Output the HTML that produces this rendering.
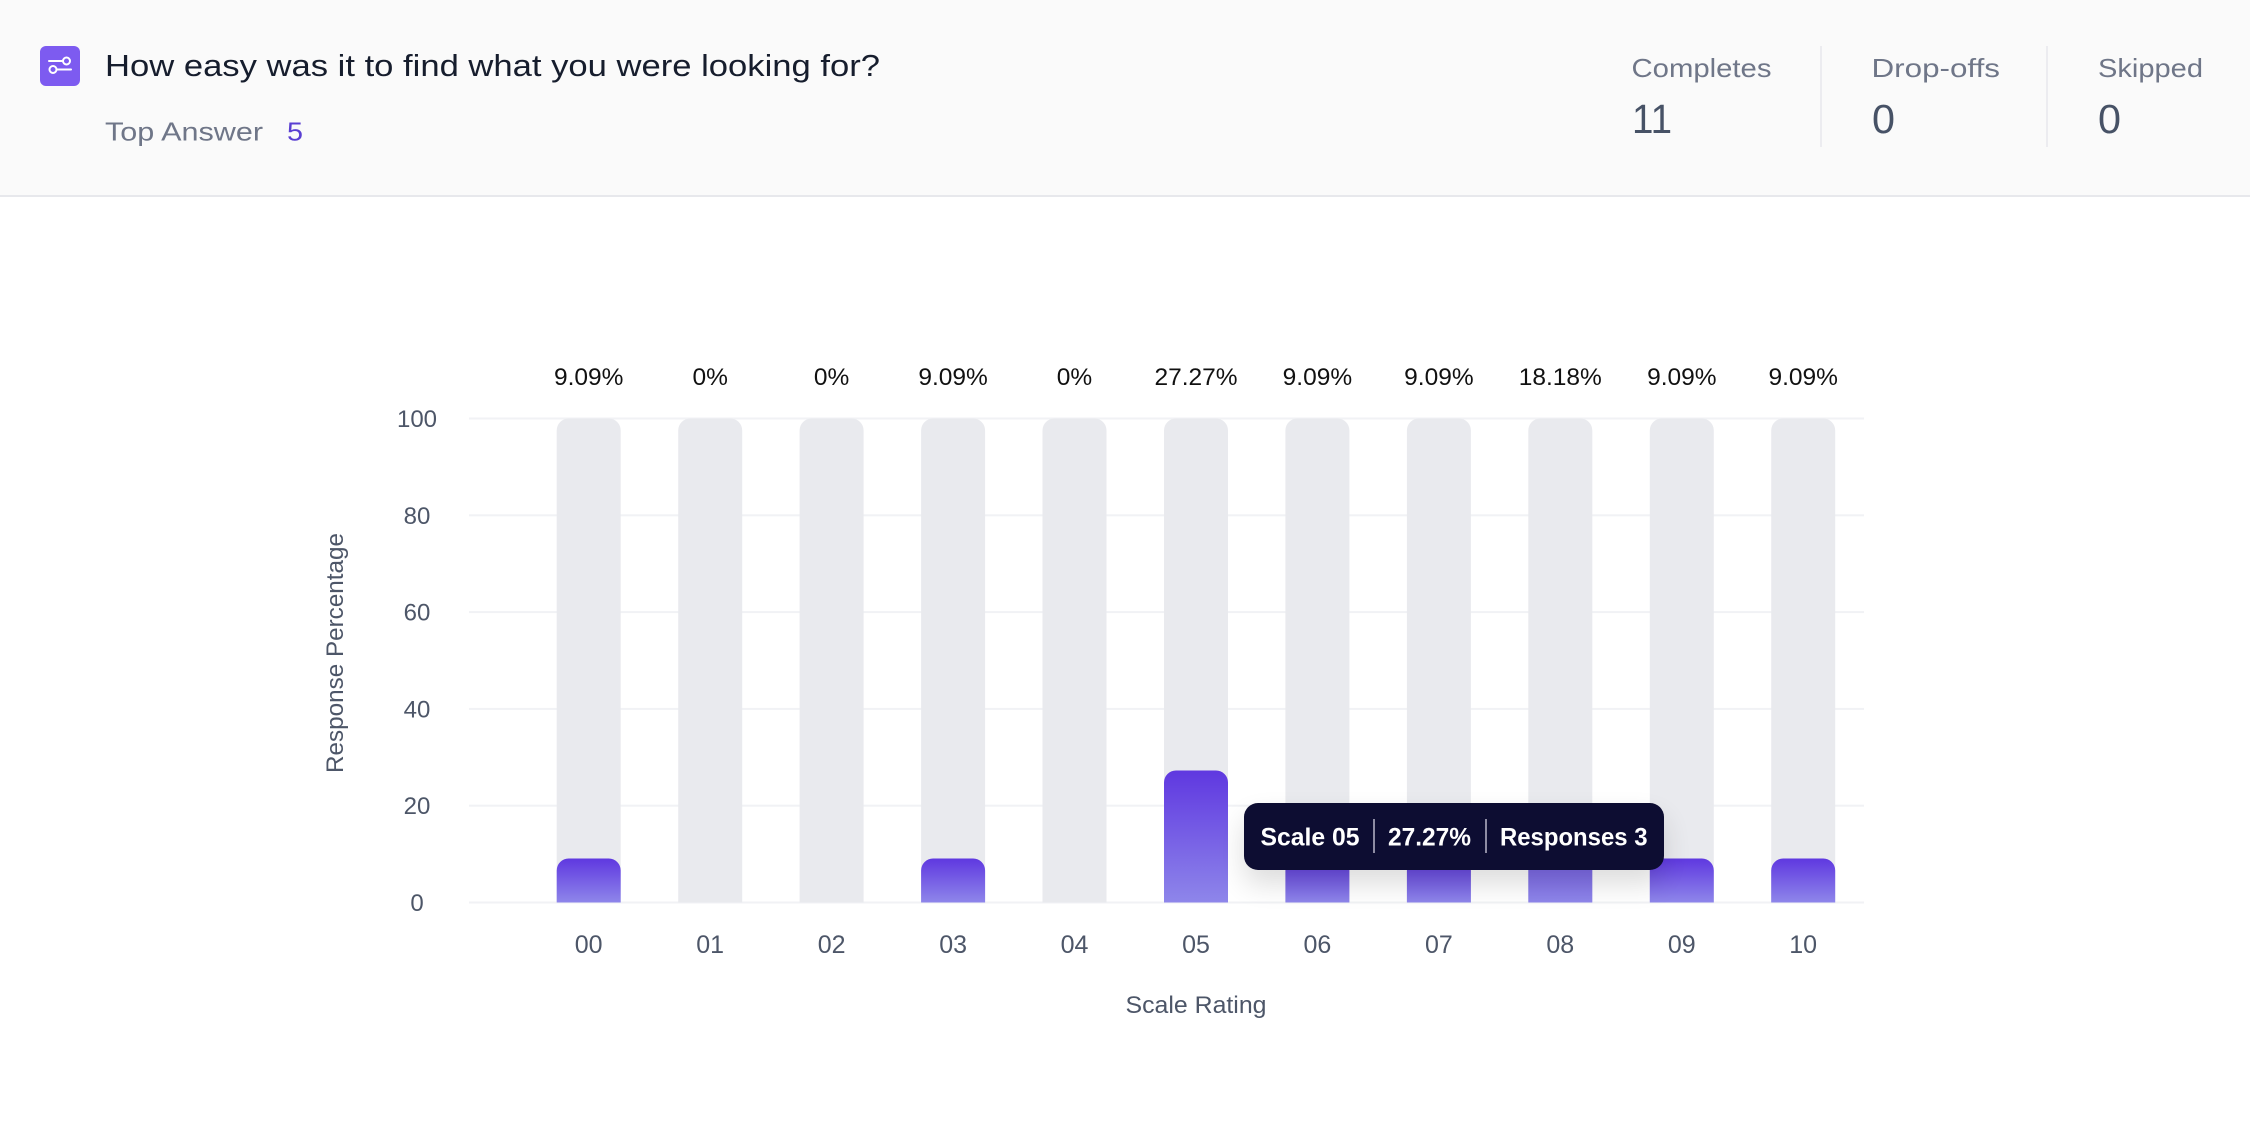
<!DOCTYPE html>
<html>
<head>
<meta charset="utf-8">
<style>
  html,body{margin:0;padding:0;background:#ffffff;}
  body{width:2250px;height:1122px;overflow:hidden;}
  svg{display:block;}
  text{font-family:"Liberation Sans", Arial, sans-serif;}
</style>
</head>
<body>
<svg width="2250" height="1122" viewBox="0 0 2250 1122" xmlns="http://www.w3.org/2000/svg">
  <defs>
    <linearGradient id="pg" x1="0" y1="0" x2="0" y2="1">
      <stop offset="0" stop-color="#5f38e0"/>
      <stop offset="1" stop-color="#8e86ea"/>
    </linearGradient>
    <filter id="sh" x="-20%" y="-50%" width="140%" height="220%">
      <feGaussianBlur in="SourceAlpha" stdDeviation="14"/>
      <feOffset dy="14" result="b"/>
      <feComponentTransfer><feFuncA type="linear" slope="0.14"/></feComponentTransfer>
      <feMerge><feMergeNode/><feMergeNode in="SourceGraphic"/></feMerge>
    </filter>
  </defs>

  <!-- Header -->
  <rect x="0" y="0" width="2250" height="196" fill="#fafafa"/>
  <rect x="0" y="195" width="2250" height="2" fill="#e7e8ec"/>

  <!-- icon -->
  <rect x="40" y="46" width="40" height="40" rx="6" fill="#7d5bf0"/>
  <g stroke="#ffffff" stroke-width="2" fill="none" stroke-linecap="round">
    <line x1="49" y1="61" x2="63" y2="61"/>
    <circle cx="66.5" cy="61" r="3.5"/>
    <circle cx="53" cy="69.5" r="3.5"/>
    <line x1="56.5" y1="69.5" x2="71" y2="69.5"/>
  </g>

  <text x="105" y="76" font-size="31" fill="#161d2d" textLength="775" lengthAdjust="spacingAndGlyphs">How easy was it to find what you were looking for?</text>
  <text x="105" y="140.5" font-size="26" fill="#6f7688" textLength="158" lengthAdjust="spacingAndGlyphs">Top Answer</text>
  <text x="287" y="140.5" font-size="26" fill="#5a3fd2" textLength="16" lengthAdjust="spacingAndGlyphs">5</text>

  <!-- stats -->
  <text x="1631.5" y="77" font-size="26" fill="#6f7688" textLength="140" lengthAdjust="spacingAndGlyphs">Completes</text>
  <text x="1632" y="133" font-size="41" fill="#475266" textLength="40" lengthAdjust="spacingAndGlyphs">11</text>
  <rect x="1820" y="46" width="2" height="101" fill="#ececf0"/>
  <text x="1871.5" y="77" font-size="26" fill="#6f7688" textLength="128.5" lengthAdjust="spacingAndGlyphs">Drop-offs</text>
  <text x="1872" y="133" font-size="41" fill="#475266" textLength="23" lengthAdjust="spacingAndGlyphs">0</text>
  <rect x="2046" y="46" width="2" height="101" fill="#ececf0"/>
  <text x="2098" y="77" font-size="26" fill="#6f7688" textLength="105" lengthAdjust="spacingAndGlyphs">Skipped</text>
  <text x="2098" y="133" font-size="41" fill="#475266" textLength="23" lengthAdjust="spacingAndGlyphs">0</text>

  <!-- gridlines -->
  <g fill="#f1f2f5">
    <rect x="469" y="417.5" width="1395" height="2"/>
    <rect x="469" y="514.3" width="1395" height="2"/>
    <rect x="469" y="611.1" width="1395" height="2"/>
    <rect x="469" y="707.9" width="1395" height="2"/>
    <rect x="469" y="804.7" width="1395" height="2"/>
    <rect x="469" y="901.5" width="1395" height="2"/>
  </g>

  <!-- y tick labels -->
  <g font-size="24" fill="#4d5668" text-anchor="middle">
    <text x="417" y="427">100</text>
    <text x="417" y="523.8">80</text>
    <text x="417" y="620.6">60</text>
    <text x="417" y="717.4">40</text>
    <text x="417" y="814.2">20</text>
    <text x="417" y="911">0</text>
  </g>

  <!-- y axis title -->
  <text transform="translate(343,653) rotate(-90)" font-size="24" fill="#4d5668" text-anchor="middle" textLength="240" lengthAdjust="spacingAndGlyphs">Response Percentage</text>

  <!-- gray background bars -->
  <g fill="#e9eaee">
    <path d="M556.7 902.5 V430.5 A12 12 0 0 1 568.7 418.5 H608.7 A12 12 0 0 1 620.7 430.5 V902.5 Z"/>
    <path d="M678.2 902.5 V430.5 A12 12 0 0 1 690.2 418.5 H730.2 A12 12 0 0 1 742.2 430.5 V902.5 Z"/>
    <path d="M799.6 902.5 V430.5 A12 12 0 0 1 811.6 418.5 H851.6 A12 12 0 0 1 863.6 430.5 V902.5 Z"/>
    <path d="M921.1 902.5 V430.5 A12 12 0 0 1 933.1 418.5 H973.1 A12 12 0 0 1 985.1 430.5 V902.5 Z"/>
    <path d="M1042.5 902.5 V430.5 A12 12 0 0 1 1054.5 418.5 H1094.5 A12 12 0 0 1 1106.5 430.5 V902.5 Z"/>
    <path d="M1164 902.5 V430.5 A12 12 0 0 1 1176 418.5 H1216 A12 12 0 0 1 1228 430.5 V902.5 Z"/>
    <path d="M1285.4 902.5 V430.5 A12 12 0 0 1 1297.4 418.5 H1337.4 A12 12 0 0 1 1349.4 430.5 V902.5 Z"/>
    <path d="M1406.9 902.5 V430.5 A12 12 0 0 1 1418.9 418.5 H1458.9 A12 12 0 0 1 1470.9 430.5 V902.5 Z"/>
    <path d="M1528.3 902.5 V430.5 A12 12 0 0 1 1540.3 418.5 H1580.3 A12 12 0 0 1 1592.3 430.5 V902.5 Z"/>
    <path d="M1649.8 902.5 V430.5 A12 12 0 0 1 1661.8 418.5 H1701.8 A12 12 0 0 1 1713.8 430.5 V902.5 Z"/>
    <path d="M1771.2 902.5 V430.5 A12 12 0 0 1 1783.2 418.5 H1823.2 A12 12 0 0 1 1835.2 430.5 V902.5 Z"/>
  </g>

  <!-- purple value bars -->
  <g fill="url(#pg)">
    <path d="M556.7 902.5 V870.5 A12 12 0 0 1 568.7 858.5 H608.7 A12 12 0 0 1 620.7 870.5 V902.5 Z"/>
    <path d="M921.1 902.5 V870.5 A12 12 0 0 1 933.1 858.5 H973.1 A12 12 0 0 1 985.1 870.5 V902.5 Z"/>
    <path d="M1164 902.5 V782.5 A12 12 0 0 1 1176 770.5 H1216 A12 12 0 0 1 1228 782.5 V902.5 Z"/>
    <path d="M1285.4 902.5 V870.5 A12 12 0 0 1 1297.4 858.5 H1337.4 A12 12 0 0 1 1349.4 870.5 V902.5 Z"/>
    <path d="M1406.9 902.5 V870.5 A12 12 0 0 1 1418.9 858.5 H1458.9 A12 12 0 0 1 1470.9 870.5 V902.5 Z"/>
    <path d="M1528.3 902.5 V826.5 A12 12 0 0 1 1540.3 814.5 H1580.3 A12 12 0 0 1 1592.3 826.5 V902.5 Z"/>
    <path d="M1649.8 902.5 V870.5 A12 12 0 0 1 1661.8 858.5 H1701.8 A12 12 0 0 1 1713.8 870.5 V902.5 Z"/>
    <path d="M1771.2 902.5 V870.5 A12 12 0 0 1 1783.2 858.5 H1823.2 A12 12 0 0 1 1835.2 870.5 V902.5 Z"/>
  </g>

  <!-- percentage labels -->
  <g font-size="24.5" fill="#111111" text-anchor="middle">
    <text x="588.7" y="385">9.09%</text>
    <text x="710.2" y="385">0%</text>
    <text x="831.6" y="385">0%</text>
    <text x="953.1" y="385">9.09%</text>
    <text x="1074.5" y="385">0%</text>
    <text x="1196" y="385">27.27%</text>
    <text x="1317.4" y="385">9.09%</text>
    <text x="1438.9" y="385">9.09%</text>
    <text x="1560.3" y="385">18.18%</text>
    <text x="1681.8" y="385">9.09%</text>
    <text x="1803.2" y="385">9.09%</text>
  </g>

  <!-- x labels -->
  <g font-size="25" fill="#4d5668" text-anchor="middle">
    <text x="588.7" y="953">00</text>
    <text x="710.2" y="953">01</text>
    <text x="831.6" y="953">02</text>
    <text x="953.1" y="953">03</text>
    <text x="1074.5" y="953">04</text>
    <text x="1196" y="953">05</text>
    <text x="1317.4" y="953">06</text>
    <text x="1438.9" y="953">07</text>
    <text x="1560.3" y="953">08</text>
    <text x="1681.8" y="953">09</text>
    <text x="1803.2" y="953">10</text>
  </g>
  <text x="1196" y="1013" font-size="24.5" fill="#4d5668" text-anchor="middle" textLength="141" lengthAdjust="spacingAndGlyphs">Scale Rating</text>

  <!-- tooltip -->
  <rect x="1244" y="803" width="420" height="67" rx="14" fill="#0e0c30" filter="url(#sh)"/>
  <g font-size="25" font-weight="bold" fill="#ffffff">
    <text x="1260.5" y="845.5" textLength="99" lengthAdjust="spacingAndGlyphs">Scale 05</text>
    <text x="1388" y="845.5" textLength="83" lengthAdjust="spacingAndGlyphs">27.27%</text>
    <text x="1500" y="845.5" textLength="147.5" lengthAdjust="spacingAndGlyphs">Responses 3</text>
  </g>
  <rect x="1373" y="819" width="2" height="34" fill="#8e8ca3"/>
  <rect x="1485" y="819" width="2" height="34" fill="#8e8ca3"/>
</svg>
</body>
</html>
